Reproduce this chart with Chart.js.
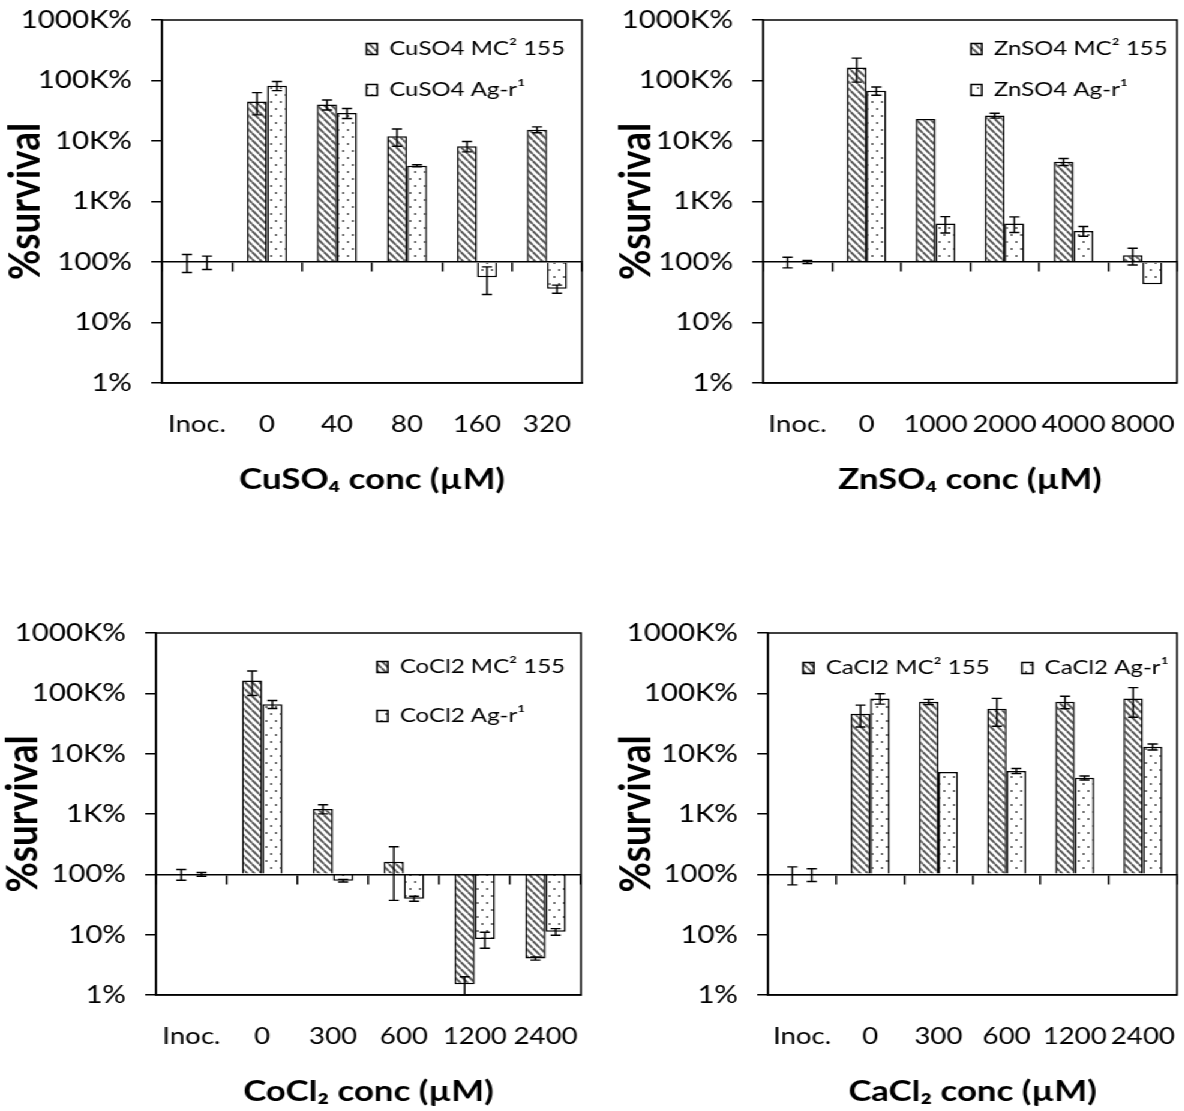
<!DOCTYPE html>
<html>
<head>
<meta charset="utf-8">
<script src="https://cdn.jsdelivr.net/npm/chart.js@4.4.1/dist/chart.umd.min.js"></script>
<style>
  body { margin: 0; background: #fff; }
  /* the source figure is stretched horizontally, so the whole set is drawn narrower and widened */
  #wrap { position: absolute; left: 0; top: 0; width: 987px; height: 1111px; transform: scaleX(1.2); transform-origin: 0 0; }
  #wrap canvas { position: absolute; }
</style>
</head>
<body>
<div id="wrap">
  <canvas id="cu" width="493" height="556" style="left:0;top:0"></canvas>
  <canvas id="zn" width="493" height="556" style="left:493px;top:0"></canvas>
  <canvas id="co" width="493" height="555" style="left:0;top:556px"></canvas>
  <canvas id="ca" width="493" height="555" style="left:493px;top:556px"></canvas>
</div>
<script>
// values in % survival, error = +/- SD
var cuLabels = ['Inoc.', '0', '40', '80', '160', '320'];
var cuMc = [100, 45000, 40000, 12000, 8200, 15400];
var cuMcErr = [33, 18000, 7500, 3800, 1600, 1700];
var cuAg = [100, 82000, 29000, 3900, 56, 36];
var cuAgErr = [25, 14000, 5500, 150, 27, 5.5];

var znLabels = ['Inoc.', '0', '1000', '2000', '4000', '8000'];
var znMc = [100, 164000, 23200, 26300, 4540, 129];
var znMcErr = [20, 70000, 0, 2400, 600, 40];
var znAg = [100, 67400, 432, 432, 326, 43];
var znAgErr = [6, 10500, 130, 125, 60, 0];

var coLabels = ['Inoc.', '0', '300', '600', '1200', '2400'];
var coMc = [100, 163000, 1214, 162, 1.51, 4.04];
var coMcErr = [20, 71000, 210, 125, 0.5, 0.25];
var coAg = [100, 66200, 78.5, 39.5, 8.45, 11.2];
var coAgErr = [7, 10000, 4, 3.8, 2.5, 1.4];

var caLabels = ['Inoc.', '0', '300', '600', '1200', '2400'];
var caMc = [100, 45700, 72400, 55400, 72400, 82200];
var caMcErr = [33, 18000, 7000, 27000, 17000, 42000];
var caAg = [100, 82200, 4990, 5180, 3970, 12970];
var caAgErr = [24, 16000, 0, 500, 300, 1500];

var yTickValues = [1, 10, 100, 1000, 10000, 100000, 1000000];
var yTickLabels = ['1%', '10%', '100%', '1K%', '10K%', '100K%', '1000K%'];

Chart.defaults.font.family = "Lato, 'Noto Sans', sans-serif";
Chart.defaults.color = '#000';

var framePlugin = {
    id: 'frame',
    beforeDatasetsDraw(chart) {
        var a = chart.chartArea, ctx = chart.ctx;
        ctx.save();
        ctx.strokeStyle = '#000';
        ctx.lineWidth = 1.5;
        ctx.strokeRect(a.left, a.top, a.right - a.left, a.bottom - a.top);
        ctx.restore();
    }
};

var errorBarPlugin = {
    id: 'errorBars',
    afterDatasetsDraw(chart) {
        var ctx = chart.ctx, y = chart.scales.y;
        ctx.save();
        ctx.strokeStyle = '#000';
        ctx.lineWidth = 1.4;
        chart.data.datasets.forEach(function (ds, i) {
            chart.getDatasetMeta(i).data.forEach(function (bar, j) {
                var v = ds.data[j], e = ds.errors[j];
                if (!e) return;
                var hi = y.getPixelForValue(v + e);
                var lo = y.getPixelForValue(Math.max(v - e, y.min));
                var w = 4.2;
                ctx.beginPath();
                ctx.moveTo(bar.x, hi); ctx.lineTo(bar.x, lo);
                ctx.moveTo(bar.x - w, hi); ctx.lineTo(bar.x + w, hi);
                ctx.moveTo(bar.x - w, lo); ctx.lineTo(bar.x + w, lo);
                ctx.stroke();
            });
        });
        ctx.restore();
    }
};

// moves the built-in legend inside the plot area
var legendPlacePlugin = {
    id: 'legendPlace',
    afterLayout(chart, args, opts) {
        var lg = chart.legend;
        var boxes = lg.legendHitBoxes;
        if (!boxes || !boxes.length) return;
        var pad = lg.options.labels.padding;
        var ih = boxes[0].height;
        var widths = boxes.map(function (b) { return b.width; });
        lg.left = opts.x - pad;
        lg.top = opts.y - ih / 2 - pad;
        if (opts.stack) {
            lg.right = lg.left + 2 * pad + Math.max.apply(null, widths) + 1;
            lg.bottom = lg.top + pad + widths.length * (ih + pad);
        } else {
            lg.right = lg.left + pad + widths.reduce(function (s, w) { return s + w + pad; }, 0) + 2;
            lg.bottom = lg.top + ih + 2 * pad;
        }
        lg.width = lg.right - lg.left;
        lg.height = lg.bottom - lg.top;
    }
};

function makePatterns(ctx) {
    var t = document.createElement('canvas');
    t.width = 6; t.height = 7;
    var g = t.getContext('2d');
    g.fillStyle = '#fff';
    g.fillRect(0, 0, 6, 7);
    g.strokeStyle = '#5a5a5a';
    g.lineWidth = 2;
    [-1, 0, 1].forEach(function (k) {
        g.beginPath(); g.moveTo(6 * k, 0); g.lineTo(6 * k + 6, 7); g.stroke();
    });
    var d = document.createElement('canvas');
    d.width = 8; d.height = 14;
    var h = d.getContext('2d');
    h.fillStyle = '#fff';
    h.fillRect(0, 0, 8, 14);
    h.fillStyle = '#777';
    h.fillRect(1, 3, 2, 2);
    h.fillRect(5, 10, 2, 2);
    return { hatch: ctx.createPattern(t, 'repeat'), dots: ctx.createPattern(d, 'repeat') };
}

function survivalChart(id, labels, names, mc, mcErr, ag, agErr, xTitle, place) {
    var ctx = document.getElementById(id).getContext('2d');
    var pat = makePatterns(ctx);
    return new Chart(ctx, {
        type: 'bar',
        data: {
            labels: labels,
            datasets: [{
                label: names[0],
                data: mc,
                errors: mcErr,
                base: 100,
                backgroundColor: pat.hatch,
                borderColor: '#000',
                borderWidth: 1.5,
                categoryPercentage: 0.571,
                barPercentage: 1
            }, {
                label: names[1],
                data: ag,
                errors: agErr,
                base: 100,
                backgroundColor: pat.dots,
                borderColor: '#000',
                borderWidth: 1.5,
                categoryPercentage: 0.571,
                barPercentage: 1
            }]
        },
        options: {
            responsive: false,
            animation: false,
            layout: { padding: place.padding },
            plugins: {
                tooltip: { enabled: false },
                legend: {
                    position: 'top',
                    align: 'start',
                    maxHeight: 0.01,
                    labels: { boxWidth: 9, boxHeight: 11, padding: place.legendPad, font: { size: 20 }, color: '#000' }
                },
                legendPlace: place.legend
            },
            scales: {
                x: {
                    grid: { display: false, drawTicks: false },
                    border: { display: true, color: '#000', width: 1.5 },
                    ticks: { font: { size: 23 }, padding: 28.2, maxRotation: 0, minRotation: 0, autoSkip: false },
                    title: { display: true, text: xTitle, font: { size: 29, weight: 'bold', lineHeight: 1 }, padding: 0 },
                    afterFit: function (s) { s.height = 111.5; s.paddingLeft = 0; s.paddingRight = 0; }
                },
                x2: {
                    type: 'category',
                    axis: 'x',
                    position: { y: 100 },
                    offset: true,
                    grid: { offset: true, drawOnChartArea: false, color: '#000', lineWidth: 1.5, tickLength: 9, z: 1 },
                    border: { color: '#000', width: 1.5, z: 1 },
                    ticks: { display: false },
                    afterFit: function (s) { s.paddingLeft = 0; s.paddingRight = 0; }
                },
                y: {
                    type: 'logarithmic',
                    min: 1,
                    max: 1000000,
                    afterBuildTicks: function (s) {
                        s.ticks = yTickValues.map(function (v) { return { value: v }; });
                    },
                    ticks: {
                        font: { size: 24.5 },
                        padding: 16,
                        callback: function (v) { return yTickLabels[yTickValues.indexOf(v)]; }
                    },
                    grid: { drawOnChartArea: false, color: '#000', lineWidth: 1.5, tickLength: 9 },
                    border: { color: '#000', width: 1.5 },
                    title: {
                        display: true,
                        text: '%survival',
                        font: { size: 37, weight: 'bold', lineHeight: 1 },
                        padding: { top: place.yTitlePad, bottom: 0 }
                    },
                    afterFit: function (s) { s.width = place.yw; s.paddingTop = 0; s.paddingBottom = 0; }
                }
            }
        },
        plugins: [framePlugin, errorBarPlugin, legendPlacePlugin]
    });
}

survivalChart('cu', cuLabels, ['CuSO4 MC² 155', 'CuSO4 Ag-r¹'], cuMc, cuMcErr, cuAg, cuAgErr, 'CuSO₄ conc (µM)', {
    padding: { left: 0, right: 8, top: 19.99, bottom: 61.5 }, yw: 135, yTitlePad: 2.3,
    legend: { x: 305.4, y: 49, stack: true }, legendPad: 21
});
survivalChart('zn', znLabels, ['ZnSO4 MC² 155', 'ZnSO4 Ag-r¹'], znMc, znMcErr, znAg, znAgErr, 'ZnSO₄ conc (µM)', {
    padding: { left: 0, right: 5.17, top: 19.99, bottom: 61.5 }, yw: 142.83, yTitlePad: 18.5,
    legend: { x: 316.2, y: 49, stack: true }, legendPad: 21
});
survivalChart('co', coLabels, ['CoCl2 MC² 155', 'CoCl2 Ag-r¹'], coMc, coMcErr, coAg, coAgErr, 'CoCl₂ conc (µM)', {
    padding: { left: 0, right: 8.83, top: 76.99, bottom: 4.5 }, yw: 130, yTitlePad: 0.7,
    legend: { x: 314.2, y: 111, stack: true }, legendPad: 29
});
survivalChart('ca', caLabels, ['CaCl2 MC² 155', 'CaCl2 Ag-r¹'], caMc, caMcErr, caAg, caAgErr, 'CaCl₂ conc (µM)', {
    padding: { left: 0, right: 5.17, top: 76.99, bottom: 4.5 }, yw: 147, yTitlePad: 18.5,
    legend: { x: 176.2, y: 112, stack: false }, legendPad: 27
});
</script>
</body>
</html>
